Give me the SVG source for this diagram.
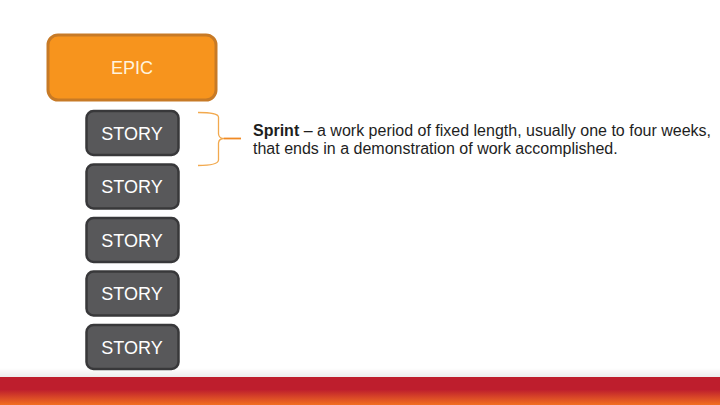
<svg xmlns="http://www.w3.org/2000/svg" width="720" height="405" viewBox="0 0 720 405">
<defs>
<linearGradient id="bar" x1="0" y1="0" x2="0" y2="1">
<stop offset="0" stop-color="#BE1E2D"/>
<stop offset="0.45" stop-color="#BE1E2D"/>
<stop offset="1" stop-color="#F26F21"/>
</linearGradient>
<linearGradient id="shadow" x1="0" y1="0" x2="0" y2="1">
<stop offset="0" stop-color="#FFFFFF"/>
<stop offset="1" stop-color="#EDEDED"/>
</linearGradient>
</defs>
<style>
.epic{fill:#F7941D;stroke:#C77A26;stroke-width:3}
.story{fill:#58585A;stroke:#38383A;stroke-width:2.5}
.lbl{font-family:"Liberation Sans",Arial,sans-serif;font-size:18px;text-anchor:middle}
.body{font-family:"Liberation Sans",Arial,sans-serif;font-size:16px;fill:#1E1E1E}
.brace{fill:none;stroke:#F2A94E;stroke-width:1.3}
</style>
<rect width="720" height="405" fill="#FFFFFF"/>
<rect x="0" y="368" width="720" height="9" fill="url(#shadow)"/>
<rect x="0" y="377" width="720" height="28" fill="url(#bar)"/>
<g id="epic">
<rect class="epic" x="48" y="35" width="168" height="65" rx="10"/>
<text class="lbl" x="132" y="74" fill="#FFF3DE" font-size="17.5">EPIC</text>
</g>
<g id="story1">
<rect class="story" x="86.5" y="111" width="92" height="44" rx="7"/>
<text class="lbl" x="132" y="139.5" fill="#FFFFFF">STORY</text>
</g>
<g id="story2">
<rect class="story" x="86.5" y="164.5" width="92" height="44" rx="7"/>
<text class="lbl" x="132" y="193" fill="#FFFFFF">STORY</text>
</g>
<g id="story3">
<rect class="story" x="86.5" y="218" width="92" height="44" rx="7"/>
<text class="lbl" x="132" y="246.5" fill="#FFFFFF">STORY</text>
</g>
<g id="story4">
<rect class="story" x="86.5" y="271.5" width="92" height="44" rx="7"/>
<text class="lbl" x="132" y="300" fill="#FFFFFF">STORY</text>
</g>
<g id="story5">
<rect class="story" x="86.5" y="325" width="92" height="44" rx="7"/>
<text class="lbl" x="132" y="353.5" fill="#FFFFFF">STORY</text>
</g>
<g id="connectors">
<path class="brace" d="M198,112.5 Q218,112.5 218.5,117 L218.5,134 Q219,138.5 224,138.5 Q219,138.5 218.5,143 L218.5,160 Q218,165.5 198,165.5"/>
<line x1="224" y1="138.5" x2="241" y2="138.5" stroke="#F08A24" stroke-width="1.8"/>
</g>
<g id="sprint-note">
<text class="body" x="253" y="135.5"><tspan font-weight="bold">Sprint</tspan> – a work period of fixed length, usually one to four weeks,</text>
<text class="body" x="253" y="153.5">that ends in a demonstration of work accomplished.</text>
</g>
</svg>
